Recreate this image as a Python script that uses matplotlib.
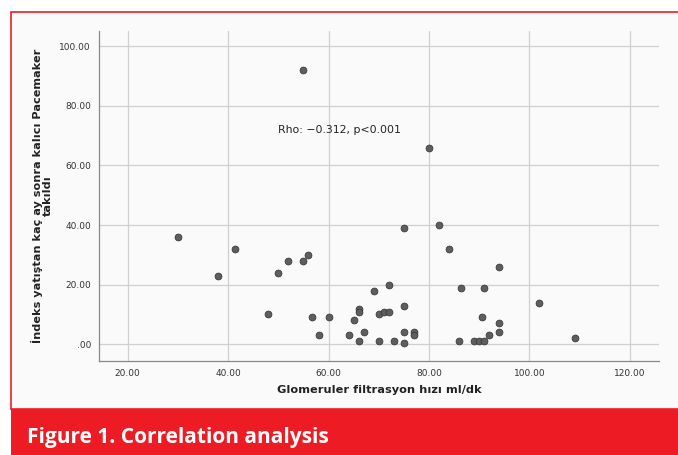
import matplotlib
matplotlib.use("Agg")
import matplotlib.pyplot as plt
from matplotlib.patches import Rectangle

# GFR (ml/dk) vs months until permanent pacemaker
gfr = [30, 38, 41.4, 48, 50, 52, 55, 55, 56, 56.7, 58, 60, 64, 65, 66, 66, 66,
       67, 69, 70, 70, 71, 72, 72, 73, 75, 75, 75, 75, 77, 77, 80, 82, 84,
       86.4, 86, 89, 90, 91, 90.5, 91, 92, 94, 94, 94, 102, 109]
months = [36, 23, 32, 10, 24, 28, 28, 92, 30, 9, 3, 9, 3, 8, 12, 11, 1,
          4, 18, 10, 1, 11, 11, 20, 1, 39, 13, 4, 0.5, 4, 3, 66, 40, 32,
          19, 1, 1, 1, 1, 9, 19, 3, 26, 7, 4, 14, 2]
x_ticks = [20, 40, 60, 80, 100, 120]
y_ticks = [0, 20, 40, 60, 80, 100]
y_tick_labels = [".00", "20.00", "40.00", "60.00", "80.00", "100.00"]

RED = "#ED1C24"
W, H = 678, 455

fig = plt.figure(figsize=(W / 100, H / 100), dpi=100)
fig.patch.set_facecolor("white")

# light panel inside the red frame
fig.add_artist(Rectangle((11 / W, 1 - 409 / H), 1, (409 - 11.5) / H,
                         transform=fig.transFigure, facecolor="#FAFAFA",
                         edgecolor=RED, linewidth=1.2, zorder=0))
# caption banner
fig.add_artist(Rectangle((11 / W, 0), 1, (455 - 409) / H,
                         transform=fig.transFigure, facecolor=RED,
                         edgecolor="none", zorder=1))
fig.text(27 / W, 1 - 437 / H, "Figure 1. Correlation analysis",
         color="white", fontsize=15, fontweight="bold",
         ha="left", va="center", family="Open Sans")

ax = fig.add_axes([99.3 / W, 1 - 361 / H, (659 - 99.3) / W, (361 - 30.7) / H])
ax.set_facecolor("none")
ax.set_xlim(14.35, 125.8)
ax.set_ylim(-5.6, 105.2)

ax.set_xticks(x_ticks)
ax.set_xticklabels([f"{t:.2f}" for t in x_ticks])
ax.set_yticks(y_ticks)
ax.set_yticklabels(y_tick_labels)
ax.tick_params(length=0, labelsize=6.5, labelcolor="#333333", pad=6)
ax.grid(True, color="#D0D0D0", linewidth=0.9)
ax.set_axisbelow(True)
for side in ("top", "right"):
    ax.spines[side].set_visible(False)
for side in ("left", "bottom"):
    ax.spines[side].set_color("#888888")
    ax.spines[side].set_linewidth(0.9)

ax.scatter(gfr, months, s=24, facecolor="#5E5E5E", edgecolor="#3A3A3A",
           linewidth=0.6, zorder=3)

ax.text(50, 72, "Rho: \u22120.312, p<0.001", fontsize=7.8, color="#222222",
        ha="left", va="center")

ax.set_xlabel("Glomeruler filtrasyon hızı ml/dk", fontsize=8.2,
              fontweight="bold", color="#222222", labelpad=5)
ax.set_ylabel("İndeks yatıştan kaç ay sonra kalıcı Pacemaker\ntakıldı",
              fontsize=8.1, fontweight="bold", color="#222222", labelpad=5,
              linespacing=0.95)

fig.savefig("out.png", dpi=100)
